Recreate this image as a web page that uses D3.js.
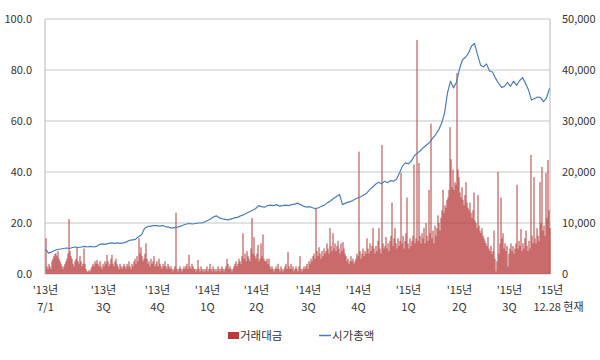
<!DOCTYPE html>
<html>
<head>
<meta charset="utf-8">
<script src="https://cdn.jsdelivr.net/npm/d3@7/dist/d3.min.js"></script>
<style>
  html, body { margin: 0; padding: 0; background: #fff; }
  text { font-family: "Noto Sans CJK KR", "Noto Sans", sans-serif; fill: #333; }
</style>
</head>
<body>
<svg id="chart" width="600" height="360"></svg>
<script>
// 거래대금 (left axis) — one value per day slot
const tradeValues = [
  14,3,2,4,3,2,5,6,7,8,
  8,7,9,6,5,4,3,2,3,4,
  5,6,8,21.5,9,7,6,4,3,5,
  6,10.6,5,4,7,5,3,4,10,4,
  2,1,1,1.5,1,2,3,4,3,5,
  4,5.5,4,3,5,3,2,4,3,5,
  4,7.5,5,3,4,6,7.5,4,3,5,
  6,4,3,2,4,3,2,3,4,3,
  2,4,3,5,3,2,4,3,5,6,
  4,7,5,14,8,10.5,7,5,6,8,
  12,6,4,5,3,6,4,5,7,3,
  4,5,3,6,4,3,2,4,3,5,
  3,2,4,3,2,3,2,1,2,3,
  24,2,1,2,3,2,1,2,3,2,
  3,4,2,7.5,3,2,4,3,2,2,
  1,2,5.5,2,1,3,2,1,2,1,
  2,3,1,2,4,2,1,3,2,1,
  2,1,3,2,1,2,3,2,1,2,
  3,6,4,2,3,2,1,2,3,4,
  5,3,4,6,5,4,7,16,6,8,
  5,9,7,6,5,10,22,8,14.5,7,
  6,8,11.4,5,6,12,7,15.5,6,5,
  5,6,4,6,3,2,3,2,1,2,
  3,2,4,2,1,3,2,1,2,3,
  4,2,8.6,3,2,4,2,3,1,2,
  3,2,1,3,7,2,1,2,3,2,
  3,4,2,5,4,6,5,7,8,6,
  26,9,7,10.5,8,6,9,7,10,8,
  9,12,10,8,18,11,9,16,10,12,
  9,11,13,10,8,12,9,12.5,10,8,
  7,5,6,4,5,7,5,6,4,5,
  6,8,7,48,9,6,8,10,7,9,
  8,14,10,8,12,9,11,18,10,8,
  11,9,13,18,10,8,50.6,12,10,11,
  14.5,10,12,9,13,15,28,11,14,18,
  12,10,14,11,13,39.6,12,15,10,13,
  16,30,12,10,14,11,13,15,43,12,
  14,91.8,13,43.5,15,12,16,14,18,12,
  20,15,13,33,16,59,14,17,12,19,
  15,18,23,20,17,22,25,33,24,27,
  26,29,30,33,57.6,45,34,41,33,36,
  35,78.8,41,38,32,30,34,29,27,31,
  36,28,26,25,28,24,22,25,32,21,
  20,18,31,19,17,16,18,15,14,13,
  12,11,14.5,10,9,11,8,9,17,6,
  1,5,40,8,12,30,14,16,10,12,
  9,11,3,8,10,12,9,11,8,10,
  12,35,10,13,11,17.6,9,12,10,14,
  17,11,9,13,10,46.7,15,12,38,14,
  12,18,15,13,36,20,42,17,19,15,
  39.6,22,44.7,25,18
];

// 시가총액 (right axis) — one value every 3 day slots
const capStep = 3;
const capValues = [
  4900,4100,4300,4600,4800,4900,5000,5100,5000,5200,
  5300,5200,5300,5400,5300,5400,5300,5400,5800,5900,
  5800,6000,6100,6000,6100,6000,6100,6300,6600,6700,
  6800,7300,7700,8900,9300,9400,9500,9500,9400,9500,
  9300,9200,9000,9100,9200,9400,9600,9800,9900,9800,
  9900,10000,10000,10200,10500,10800,11200,11400,11000,10800,
  10700,10600,10800,11000,11100,11400,11600,11900,12200,12500,
  12800,13400,13200,13100,13400,13500,13400,13600,13300,13400,
  13500,13400,13600,13700,13900,13600,13300,13100,13200,13000,
  12800,13000,13300,13500,14000,14300,14800,15200,15600,13600,
  13900,14100,14300,14600,14900,15100,15500,15800,16500,17000,
  17600,18000,17700,18200,17900,18300,18200,18600,19800,21200,
  21800,21600,22200,23200,23700,24200,24800,25300,25800,26600,
  27300,28200,29500,31500,35500,37800,36500,37600,40200,42000,
  42500,43300,44700,45200,43000,41000,40600,41200,39800,39600,
  38400,37400,36600,36800,37600,36800,37800,37000,37900,38500,
  37400,36100,34100,34400,34700,34600,33800,34500,36400
];

const leftTicks = [0, 20, 40, 60, 80, 100];
const rightTicks = [0, 10000, 20000, 30000, 40000, 50000];
const xTickSlots = [0, 58, 112, 162, 211, 263, 313, 363, 414, 464, 505];
const xTickYear = ["'13년","'13년","'13년","'14년","'14년","'14년","'14년","'15년","'15년","'15년","'15년"];
const xTickSub = ["7/1","3Q","4Q","1Q","2Q","3Q","4Q","1Q","2Q","3Q","12.28 현재"];
const legendLabels = ["거래대금", "시가총액"];

const svg = d3.select("#chart");
const plotL = 45, plotR = 550, plotT = 19, plotB = 274;
const barColor = "#b83a3a";
const lineColor = "#4a7ebb";
const gridColor = "#d9d9d9";

const x = d3.scaleLinear().domain([0, tradeValues.length]).range([plotL, plotR]);
const yL = d3.scaleLinear().domain([0, 100]).range([plotB, plotT]);
const yR = d3.scaleLinear().domain([0, 50000]).range([plotB, plotT]);

// gridlines
svg.append("g").selectAll("line").data(leftTicks).join("line")
  .attr("x1", plotL).attr("x2", plotR)
  .attr("y1", d => yL(d)).attr("y2", d => yL(d))
  .attr("stroke", gridColor).attr("stroke-width", 1.3);

// vertical axis lines
svg.append("line").attr("x1", plotL).attr("x2", plotL).attr("y1", plotT).attr("y2", plotB)
  .attr("stroke", "#c8c8c8").attr("stroke-width", 1.3);
svg.append("line").attr("x1", plotR).attr("x2", plotR).attr("y1", plotT).attr("y2", plotB)
  .attr("stroke", "#c8c8c8").attr("stroke-width", 1.3);

// bars (half-pixel offset so isolated thin spikes render pale, as in the original)
const bw = x(1) - x(0);
svg.append("g").selectAll("rect").data(tradeValues).join("rect")
  .attr("x", (d, i) => x(i) + 0.5)
  .attr("y", d => yL(d))
  .attr("width", bw)
  .attr("height", d => yL(0) - yL(d))
  .attr("fill", barColor);

// line
const line = d3.line()
  .x((d, j) => x(j * capStep + 0.5))
  .y(d => yR(d));
svg.append("path").datum(capValues)
  .attr("d", line)
  .attr("fill", "none")
  .attr("stroke", lineColor)
  .attr("stroke-width", 1.2)
  .attr("stroke-linejoin", "round");

// left axis
const axL = svg.append("g").attr("transform", `translate(${plotL},0)`)
  .call(d3.axisLeft(yL).tickValues(leftTicks).tickFormat(d3.format(".1f")).tickSize(0).tickPadding(13));
axL.select(".domain").remove();
axL.selectAll("text").style("font-size", "11px").attr("fill", "#333");

// right axis
const axR = svg.append("g").attr("transform", `translate(${plotR},0)`)
  .call(d3.axisRight(yR).tickValues(rightTicks).tickFormat(d3.format(",")).tickSize(0).tickPadding(12));
axR.select(".domain").remove();
axR.selectAll("text").style("font-size", "11px").attr("fill", "#333");

// x axis labels
const axX = svg.append("g").attr("transform", `translate(0,${plotB})`)
  .call(d3.axisBottom(x).tickValues(xTickSlots).tickSize(0).tickFormat(""));
axX.select(".domain").remove();
axX.selectAll(".tick").each(function(d, i) {
  const g = d3.select(this);
  g.select("text").remove();
  g.append("text").attr("y", 20).attr("text-anchor", "middle")
    .style("font-size", "11px").attr("fill", "#333").text(xTickYear[i]);
  g.append("text").attr("y", 37).attr("text-anchor", "middle")
    .attr("x", i === xTickSlots.length - 1 ? 8 : 0)
    .style("font-size", "11px").attr("fill", "#333").text(xTickSub[i]);
});

// legend
const lg = svg.append("g");
lg.append("rect").attr("x", 228).attr("y", 332).attr("width", 11).attr("height", 7).attr("fill", barColor);
lg.append("text").attr("x", 240).attr("y", 340).style("font-size", "11.5px").attr("fill", "#333").text(legendLabels[0]);
lg.append("line").attr("x1", 319).attr("x2", 331).attr("y1", 335.5).attr("y2", 335.5)
  .attr("stroke", lineColor).attr("stroke-width", 1.5);
lg.append("text").attr("x", 332).attr("y", 340).style("font-size", "11.5px").attr("fill", "#333").text(legendLabels[1]);
</script>
</body>
</html>
